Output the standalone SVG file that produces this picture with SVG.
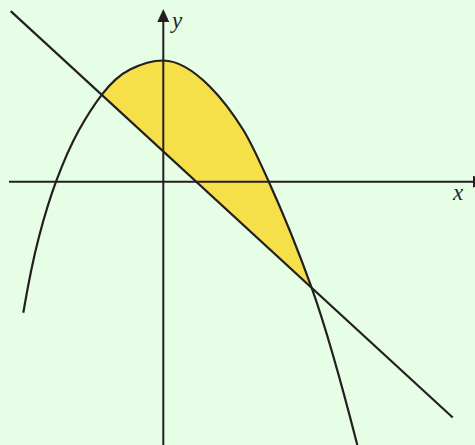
<svg xmlns="http://www.w3.org/2000/svg" width="475" height="445" viewBox="0 0 475 445">
  <style>
    .ink { fill: none; stroke: #231f20; stroke-width: 2.2; }
    .axis { fill: none; stroke: #231f20; stroke-width: 2; }
    .head { fill: #231f20; }
    .lbl { font-family: "Liberation Serif", "Times New Roman", serif; font-style: italic; font-size: 23px; fill: #231f20; }
  </style>
  <rect id="background" x="0" y="0" width="475" height="445" fill="#e6fde6"/>
  <g id="region">
    <path d="M 101.7,94.8 C 111.13,82.54 120.57,74.22 130,69.5 C 141,64 152,60.5 163,60.5 C 178.67,60.5 194.33,71.03 210,86.7 C 221.1,97.8 232.2,112.24 243.3,130 C 251.8,143.6 260.3,163 268.8,181.7 C 283.1,213.16 297.4,247.86 311.7,287.9 Z" fill="#f6e04a" stroke="none"/>
  </g>
  <g id="axes">
    <line class="axis" x1="9" y1="181.7" x2="474" y2="181.7"/>
    <polygon class="head" points="473,175.7 486,181.7 473,187.7"/>
    <line class="axis" x1="163.3" y1="445" x2="163.3" y2="21"/>
    <polygon class="head" points="157.3,22 163.3,9 169.3,22"/>
  </g>
  <g id="connectors">
    <path id="curve" class="ink" d="M 23.3,312.7 C 28.53,281.82 33.77,256.59 39,236.7 C 44.67,215.17 50.33,197 56,181.7 C 63.67,161 71.33,143.8 79,130 C 86.57,116.38 94.13,104.64 101.7,94.8 C 111.13,82.54 120.57,74.22 130,69.5 C 141,64 152,60.5 163,60.5 C 178.67,60.5 194.33,71.03 210,86.7 C 221.1,97.8 232.2,112.24 243.3,130 C 251.8,143.6 260.3,163 268.8,181.7 C 283.1,213.16 297.4,247.86 311.7,287.9 C 326.9,330.46 342.1,385.72 357.3,445"/>
    <line id="line" class="ink" x1="10.7" y1="11.1" x2="452.7" y2="417.5"/>
  </g>
  <g id="labels">
    <text class="lbl" x="172" y="28">y</text>
    <text class="lbl" x="453" y="200">x</text>
  </g>
</svg>
